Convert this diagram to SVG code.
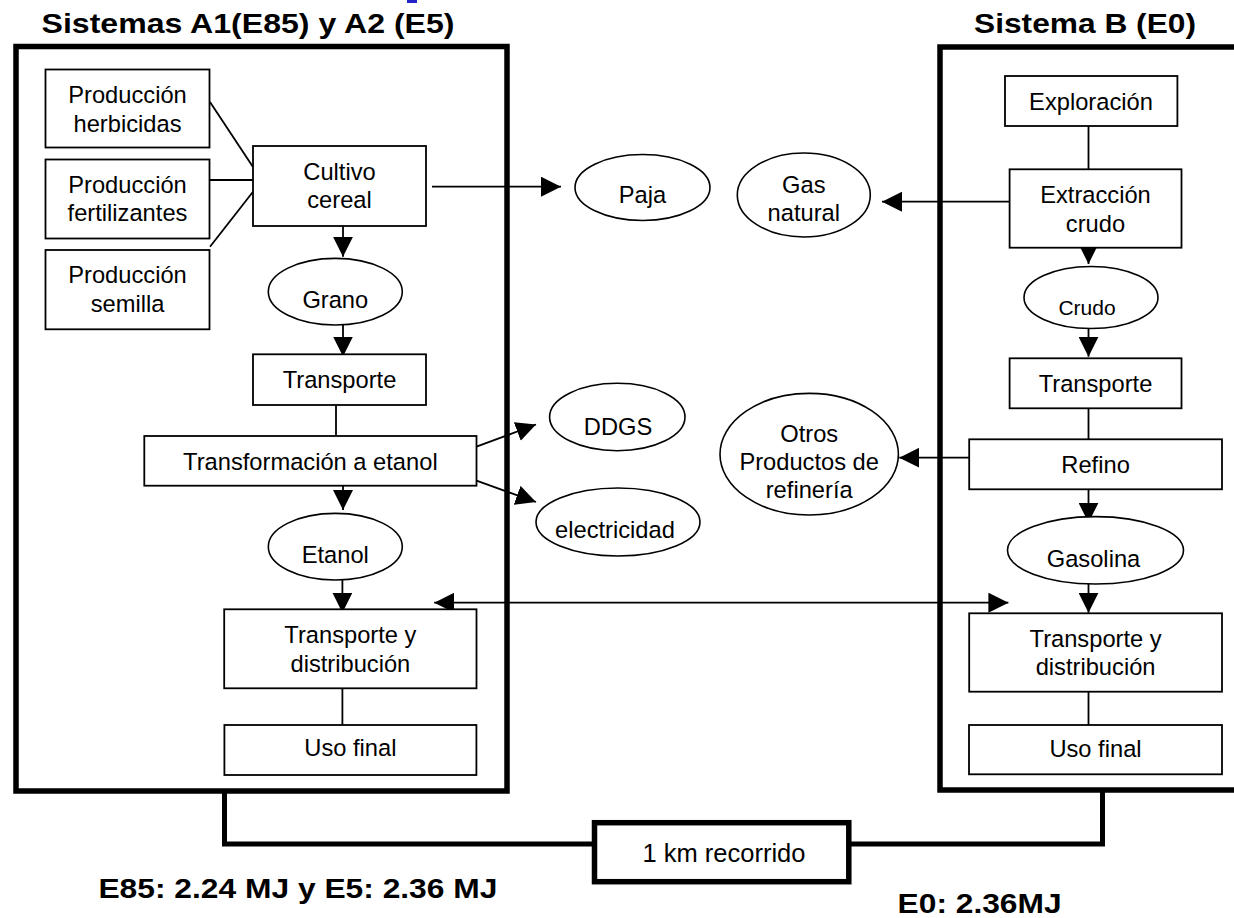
<svg xmlns="http://www.w3.org/2000/svg" width="1234" height="918" viewBox="0 0 1234 918">
  <defs>
    <marker id="arrow" markerUnits="userSpaceOnUse" markerWidth="20" markerHeight="20" refX="20" refY="10" orient="auto-start-reverse">
      <path d="M0,0 L20,10 L0,20 Z" fill="#000"/>
    </marker>
    <style>
      .box { fill: #fff; stroke: #000; stroke-width: 1.8; }
      .oval { fill: #fff; stroke: #000; stroke-width: 1.6; }
      .frame { fill: none; stroke: #000; stroke-width: 5.5; }
      .t { font-family: "Liberation Sans", Arial, sans-serif; font-size: 23.7px; fill: #000; text-anchor: middle; }
      .small { font-size: 21px; }
      .big { font-size: 25.5px; }
      .title { font-family: "Liberation Sans", Arial, sans-serif; font-size: 27.5px; font-weight: bold; fill: #000; }
      .line { stroke: #000; stroke-width: 1.8; fill: none; }
      .arr { stroke: #000; stroke-width: 1.8; fill: none; marker-end: url(#arrow); }
      .thick { stroke: #000; stroke-width: 5; fill: none; }
    </style>
  </defs>
  <rect width="1234" height="918" fill="#fff"/>
  <rect x="407" y="0" width="10" height="3" fill="#2323c8"/>

  <!-- system frames -->
  <g id="frame-a">
    <rect class="frame" x="16" y="46.5" width="491" height="744.5"/>
    <text class="title" x="41.5" y="33.3" textLength="413" lengthAdjust="spacingAndGlyphs">Sistemas A1(E85) y A2 (E5)</text>
  </g>
  <g id="frame-b">
    <rect class="frame" x="940" y="47" width="300" height="743"/>
    <text class="title" x="974" y="33.3" textLength="222" lengthAdjust="spacingAndGlyphs">Sistema B (E0)</text>
  </g>

  <!-- connectors -->
  <g id="connectors">
    <line class="line" x1="210" y1="102" x2="253" y2="167"/>
    <line class="line" x1="210" y1="180" x2="253" y2="180"/>
    <line class="line" x1="210" y1="246.7" x2="253" y2="191.7"/>
    <line class="arr" x1="432" y1="186.7" x2="561" y2="186.7"/>
    <line class="arr" x1="343" y1="226" x2="343" y2="256.7"/>
    <line class="arr" x1="343" y1="325" x2="343" y2="356.5"/>
    <line class="line" x1="336" y1="405" x2="336" y2="436"/>
    <line class="arr" x1="476.5" y1="446.7" x2="536" y2="424.5"/>
    <line class="arr" x1="476.5" y1="480.7" x2="536" y2="502"/>
    <line class="arr" x1="343" y1="486" x2="343" y2="510"/>
    <line class="arr" x1="342.4" y1="580" x2="342.4" y2="612.7"/>
    <line class="line" x1="342.4" y1="688.3" x2="342.4" y2="725"/>
    <line class="arr" x1="434.2" y1="602.7" x2="1008.4" y2="602.7" marker-start="url(#arrow)"/>

    <line class="line" x1="1088.5" y1="126" x2="1088.5" y2="169.3"/>
    <line class="arr" x1="1009.6" y1="201.7" x2="882" y2="201.7"/>
    <line class="arr" x1="1088.5" y1="247.7" x2="1088.5" y2="264"/>
    <line class="arr" x1="1088.5" y1="328" x2="1088.5" y2="356.7"/>
    <line class="line" x1="1088.5" y1="408.3" x2="1088.5" y2="439.3"/>
    <line class="arr" x1="969.2" y1="457.7" x2="899.2" y2="457.7"/>
    <line class="arr" x1="1088.5" y1="489.3" x2="1088.5" y2="522.7"/>
    <line class="arr" x1="1088.5" y1="580" x2="1088.5" y2="612.7"/>
    <line class="line" x1="1088.5" y1="691.7" x2="1088.5" y2="725"/>

    <polyline class="thick" points="224.5,791 224.5,844 594.5,844"/>
    <polyline class="thick" points="848.8,844 1102.5,844 1102.5,790"/>
  </g>

  <!-- system A nodes -->
  <g id="prod-herbicidas">
    <rect class="box" x="45.5" y="69.5" width="164" height="78"/>
    <text class="t" x="127.5" y="103">Producción</text>
    <text class="t" x="127.5" y="131.7">herbicidas</text>
  </g>
  <g id="prod-fertilizantes">
    <rect class="box" x="45.5" y="159.5" width="164" height="79"/>
    <text class="t" x="127.5" y="192.7">Producción</text>
    <text class="t" x="127.5" y="220.7">fertilizantes</text>
  </g>
  <g id="prod-semilla">
    <rect class="box" x="45.5" y="250" width="164" height="79.3"/>
    <text class="t" x="127.5" y="283.3">Producción</text>
    <text class="t" x="127.5" y="311.7">semilla</text>
  </g>
  <g id="cultivo">
    <rect class="box" x="253" y="146" width="173" height="80"/>
    <text class="t" x="339.5" y="180">Cultivo</text>
    <text class="t" x="339.5" y="208.3">cereal</text>
  </g>
  <g id="grano">
    <ellipse class="oval" cx="335.3" cy="291.7" rx="67" ry="33.3"/>
    <text class="t" x="335.3" y="308.3">Grano</text>
  </g>
  <g id="transporte-a">
    <rect class="box" x="253" y="354.3" width="173" height="50.7"/>
    <text class="t" x="339.5" y="388.3">Transporte</text>
  </g>
  <g id="transformacion">
    <rect class="box" x="144.3" y="436" width="332.2" height="49.7"/>
    <text class="t" x="310.4" y="470">Transformación a etanol</text>
  </g>
  <g id="etanol">
    <ellipse class="oval" cx="335.3" cy="546.7" rx="67" ry="33.3"/>
    <text class="t" x="335.3" y="563.3">Etanol</text>
  </g>
  <g id="distribucion-a">
    <rect class="box" x="224.2" y="609.3" width="252.3" height="79"/>
    <text class="t" x="350.4" y="643.3">Transporte y</text>
    <text class="t" x="350.4" y="671.7">distribución</text>
  </g>
  <g id="uso-a">
    <rect class="box" x="224.4" y="725" width="252" height="50"/>
    <text class="t" x="350.4" y="755.5">Uso final</text>
  </g>

  <!-- co-products -->
  <g id="paja">
    <ellipse class="oval" cx="642.5" cy="187.5" rx="67.5" ry="33"/>
    <text class="t" x="642.5" y="203.3">Paja</text>
  </g>
  <g id="gas-natural">
    <ellipse class="oval" cx="803.8" cy="195" rx="66.5" ry="42"/>
    <text class="t" x="803.8" y="192.7">Gas</text>
    <text class="t" x="803.8" y="220.7">natural</text>
  </g>
  <g id="ddgs">
    <ellipse class="oval" cx="617.3" cy="417" rx="67.7" ry="33.7"/>
    <text class="t" x="618" y="435">DDGS</text>
  </g>
  <g id="electricidad">
    <ellipse class="oval" cx="618" cy="522" rx="82" ry="34"/>
    <text class="t" x="615" y="538.3">electricidad</text>
  </g>
  <g id="otros-productos">
    <ellipse class="oval" cx="809.2" cy="454.2" rx="89.2" ry="60.8"/>
    <text class="t" x="809.2" y="441.7">Otros</text>
    <text class="t" x="809.2" y="470">Productos de</text>
    <text class="t" x="809.2" y="498.3">refinería</text>
  </g>

  <!-- system B nodes -->
  <g id="exploracion">
    <rect class="box" x="1005" y="76" width="172.4" height="50"/>
    <text class="t" x="1091" y="110">Exploración</text>
  </g>
  <g id="extraccion">
    <rect class="box" x="1009.6" y="169.3" width="171.9" height="78.4"/>
    <text class="t" x="1095.5" y="203.3">Extracción</text>
    <text class="t" x="1095.5" y="231.7">crudo</text>
  </g>
  <g id="crudo">
    <ellipse class="oval" cx="1091" cy="297.5" rx="67" ry="31"/>
    <text class="t small" x="1087" y="315">Crudo</text>
  </g>
  <g id="transporte-b">
    <rect class="box" x="1009.6" y="358.3" width="171.9" height="50"/>
    <text class="t" x="1095.5" y="391.7">Transporte</text>
  </g>
  <g id="refino">
    <rect class="box" x="969.2" y="439.3" width="252.8" height="50"/>
    <text class="t" x="1095.6" y="472.7">Refino</text>
  </g>
  <g id="gasolina">
    <ellipse class="oval" cx="1095.5" cy="550.3" rx="88" ry="33.7"/>
    <text class="t" x="1093.5" y="566.7">Gasolina</text>
  </g>
  <g id="distribucion-b">
    <rect class="box" x="969.2" y="613.3" width="252.8" height="78.4"/>
    <text class="t" x="1095.6" y="646.7">Transporte y</text>
    <text class="t" x="1095.6" y="675">distribución</text>
  </g>
  <g id="uso-b">
    <rect class="box" x="969" y="725" width="253" height="49.3"/>
    <text class="t" x="1095.5" y="756.5">Uso final</text>
  </g>

  <!-- functional unit -->
  <g id="km-recorrido">
    <rect class="frame" x="594.5" y="822.7" width="254.3" height="59"/>
    <text class="t big" x="724" y="861.7">1 km recorrido</text>
  </g>
  <g id="energia">
    <text class="title" x="98.4" y="898.3" textLength="399" lengthAdjust="spacingAndGlyphs">E85: 2.24 MJ y E5: 2.36 MJ</text>
    <text class="title" x="897.6" y="913.3" textLength="164" lengthAdjust="spacingAndGlyphs">E0: 2.36MJ</text>
  </g>
</svg>
